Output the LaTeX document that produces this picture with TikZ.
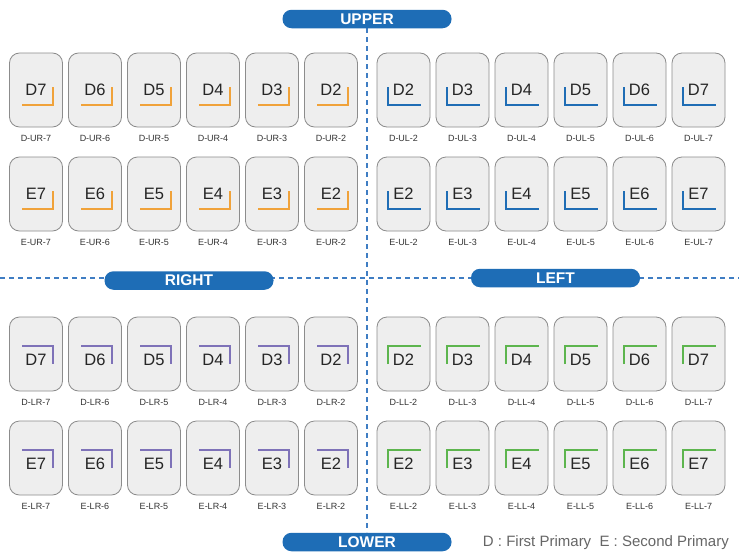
\documentclass[tikz,border=0pt]{standalone}
\usepackage{fontspec}
\setmainfont{Liberation Sans}
\definecolor{pillblue}{HTML}{1E6DB6}
\definecolor{dashblue}{HTML}{3F7DC3}
\definecolor{toothfill}{HTML}{EEEEEE}
\definecolor{toothline}{HTML}{8C8C8C}
\definecolor{cUR}{HTML}{F0A23A}
\definecolor{cUL}{HTML}{1F6DB5}
\definecolor{cLR}{HTML}{7E72B8}
\definecolor{cLL}{HTML}{5DB54E}
\definecolor{lbltext}{HTML}{333333}
\definecolor{legtext}{HTML}{666666}
\begin{document}
\begin{tikzpicture}[x=1pt,y=-1pt,
  tooth/.style={draw=toothline, fill=toothfill, rounded corners=10pt, minimum width=53pt, minimum height=74pt, line width=0.8pt, inner sep=0pt},
  toothtext/.style={font=\fontsize{16.5}{18}\selectfont, text=black!85, inner sep=0pt},
  lbl/.style={font=\fontsize{9}{10}\selectfont, text=lbltext, inner sep=0pt},
  pill/.style={fill=pillblue, rounded corners=9pt, minimum width=169pt, minimum height=18.5pt, inner sep=0pt, text=white, font=\bfseries\fontsize{15.5}{16}\selectfont},
  divider/.style={dashblue, line width=1.2pt, dash pattern=on 5pt off 4pt},
  bracket/.style={line width=1.5pt}
]
\useasboundingbox (0,0) rectangle (739,554);
\fill[white] (0,0) rectangle (739,554);

% dividers
\coordinate (hl) at (0,278);
\coordinate (hr) at (739,278);
\coordinate (vt) at (367,28);
\coordinate (vb) at (367,532);
\draw[divider] (hl) -- (hr);
\draw[divider] (vt) -- (vb);

% pills
\node[pill] (upper) at (367,19) {UPPER};
\node[pill] (lower) at (367,542) {LOWER};
\node[pill] (right) at (189,280.5) {RIGHT};
\node[pill] (left) at (555.5,278) {LEFT};

% upper right (orange)
\foreach \n [count=\i from 0] in {7,6,5,4,3,2} {
  \pgfmathsetmacro{\xx}{36+59*\i}
  \foreach \L/\yy in {D/90,E/194} {
    \node[tooth] (\L UR\n) at (\xx,\yy) {};
    \node[toothtext] (\L URt\n) at (\xx,\yy) {\L\n};
    \draw[bracket,cUR] ([shift={(-14,15)}]\L UR\n.center) -- ([shift={(17,15)}]\L UR\n.center) -- ([shift={(17,-3)}]\L UR\n.center);
    \node[lbl] (\L URl\n) at (\xx,\yy+48) {\L-UR-\n};
  }
}
% upper left (blue)
\foreach \n [count=\i from 0] in {2,3,4,5,6,7} {
  \pgfmathsetmacro{\xx}{403.5+59*\i}
  \foreach \L/\yy in {D/90,E/194} {
    \node[tooth] (\L UL\n) at (\xx,\yy) {};
    \node[toothtext] (\L ULt\n) at (\xx,\yy) {\L\n};
    \draw[bracket,cUL] ([shift={(-15.5,-3)}]\L UL\n.center) -- ([shift={(-15.5,15)}]\L UL\n.center) -- ([shift={(17.5,15)}]\L UL\n.center);
    \node[lbl] (\L ULl\n) at (\xx,\yy+48) {\L-UL-\n};
  }
}
% lower right (purple)
\foreach \n [count=\i from 0] in {7,6,5,4,3,2} {
  \pgfmathsetmacro{\xx}{36+59*\i}
  \foreach \L/\yy in {D/354,E/458} {
    \node[tooth] (\L LR\n) at (\xx,\yy) {};
    \node[toothtext] (\L LRt\n) at (\xx,\yy+6) {\L\n};
    \draw[bracket,cLR] ([shift={(-14,-8)}]\L LR\n.center) -- ([shift={(17,-8)}]\L LR\n.center) -- ([shift={(17,10)}]\L LR\n.center);
    \node[lbl] (\L LRl\n) at (\xx,\yy+48) {\L-LR-\n};
  }
}
% lower left (green)
\foreach \n [count=\i from 0] in {2,3,4,5,6,7} {
  \pgfmathsetmacro{\xx}{403.5+59*\i}
  \foreach \L/\yy in {D/354,E/458} {
    \node[tooth] (\L LL\n) at (\xx,\yy) {};
    \node[toothtext] (\L LLt\n) at (\xx,\yy+6) {\L\n};
    \draw[bracket,cLL] ([shift={(-15.5,10)}]\L LL\n.center) -- ([shift={(-15.5,-8)}]\L LL\n.center) -- ([shift={(17,-8)}]\L LL\n.center);
    \node[lbl] (\L LLl\n) at (\xx,\yy+48) {\L-LL-\n};
  }
}

% legend
\node[anchor=east, inner sep=0pt, text=legtext, font=\fontsize{15}{17}\selectfont] (legend) at (729,543) {D : First Primary\ \ E : Second Primary};
\end{tikzpicture}
\end{document}
